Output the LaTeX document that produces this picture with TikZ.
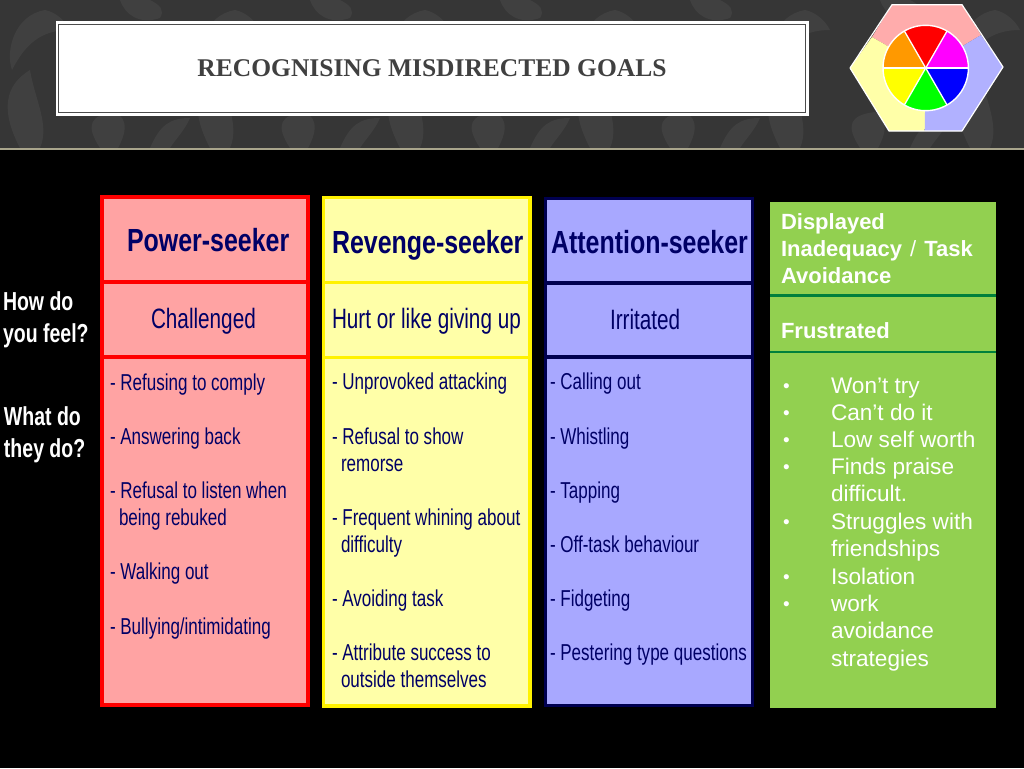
\documentclass[tikz,border=0pt]{standalone}
\usepackage{fontspec}
\setmainfont{Liberation Sans}
\newfontfamily\narrowbold[FakeStretch=0.78]{Liberation Sans Bold}
\newfontfamily\sidebold[FakeStretch=0.75]{Liberation Sans Bold}
\newfontfamily\narrowreg[FakeStretch=0.74]{Liberation Sans}
\newfontfamily\titlefont{Liberation Serif}
\definecolor{navy}{HTML}{000066}
\definecolor{navyb}{HTML}{000050}
\definecolor{bandbg}{HTML}{363636}
\definecolor{bandorn}{HTML}{404040}
\definecolor{bandedge}{HTML}{A9A58C}
\definecolor{pinkf}{HTML}{FFA3A3}
\definecolor{yellf}{HTML}{FFFFA8}
\definecolor{bluef}{HTML}{A8A8FF}
\definecolor{greenf}{HTML}{92D050}
\definecolor{greenl}{HTML}{00803C}
\definecolor{wred}{HTML}{FF0000}
\definecolor{wmag}{HTML}{FF00FF}
\definecolor{wora}{HTML}{FF9900}
\definecolor{wyel}{HTML}{FFFF00}
\definecolor{wgre}{HTML}{00FF00}
\definecolor{wblu}{HTML}{0000FF}
\tikzset{
  x=1pt,y=-1pt,
  lbl/.style={anchor=base west,inner sep=0pt,outer sep=0pt},
  head/.style={lbl,text=navy,font=\narrowbold\fontsize{32}{36}\selectfont},
  sub/.style={lbl,text=navy,font=\narrowreg\fontsize{28}{32}\selectfont},
  item/.style={lbl,text=navy,font=\narrowreg\fontsize{23}{26}\selectfont},
  side/.style={lbl,text=white,font=\sidebold\fontsize{26}{30}\selectfont},
  gbold/.style={lbl,text=white,font=\bfseries\fontsize{22}{26}\selectfont},
  gtext/.style={lbl,text=white,font=\fontsize{22.6}{26}\selectfont},
  gbul/.style={lbl,text=white,font=\fontsize{19}{26}\selectfont},
  orn/.style={fill=bandorn,draw=none},
}
\begin{document}
\begin{tikzpicture}
\useasboundingbox (0,0) rectangle (1024,768);
\fill[black] (0,0) rectangle (1024,768);
\fill[bandbg] (0,0) rectangle (1024,148);
\begin{scope}
\clip (0,0) rectangle (1024,148);
\foreach \o in {0,190,380,570,760,950}{
  \begin{scope}[shift={(\o,0)}]
  \fill[orn] (20,148) .. controls (0,110) and (5,85) .. (30,70) .. controls (35,100) and (50,125) .. (40,148) -- cycle;
  \fill[orn] (45,10) .. controls (15,15) and (5,50) .. (12,70) .. controls (25,45) and (40,30) .. (70,30) .. controls (65,20) and (55,12) .. (45,10) -- cycle;
  \fill[orn] (100,148) .. controls (85,125) and (90,115) .. (115,112) .. controls (130,120) and (125,135) .. (118,148) -- cycle;
  \fill[orn] (150,148) .. controls (160,125) and (170,118) .. (190,118) .. controls (185,130) and (175,140) .. (170,148) -- cycle;
  \fill[orn] (120,0) .. controls (125,15) and (140,25) .. (160,18) .. controls (165,10) and (160,5) .. (150,0) -- cycle;
  \end{scope}
}
\end{scope}
\fill[bandedge] (0,148) rectangle (1024,150);

% title
\fill[white] (55.5,21.5) rectangle (808.5,115.5);
\draw[black!70,line width=1.6pt] (58.5,24.5) rectangle (805.5,112.5);
\node[anchor=base,inner sep=0pt,text=black!75,font=\titlefont\bfseries\fontsize{25.5}{28}\selectfont] (title) at (432,76) {RECOGNISING MISDIRECTED GOALS};

% logo
\coordinate (c) at (925.7,68);
\fill[pinkf!90!white] (892,4.7) -- (962,4.7) -- (981,35) -- (925.7,68) -- (872,37) -- cycle;
\fill[yellf] (872,37) -- (850,68) -- (889,131) -- (924.7,131) -- (925.7,68) -- cycle;
\fill[bluef!90!white] (981,35) -- (1003,67) -- (962,131) -- (924.7,131) -- (925.7,68) -- cycle;
\draw[white,line width=1.2pt,line join=round] (892,4.7) -- (962,4.7) -- (1003,67) -- (962,131) -- (889,131) -- (850,68) -- cycle;
\def\R{42.7}
\begin{scope}
\clip (c) circle[radius=\R];
\foreach \a/\cl in {0/wmag,60/wred,120/wora,180/wyel,240/wgre,300/wblu}{
  \fill[\cl] (c) -- ++({60*cos(\a)},{-60*sin(\a)}) -- ++({60*cos(\a+60)-60*cos(\a)},{-60*sin(\a+60)+60*sin(\a)}) -- cycle;
}
\end{scope}
\foreach \a in {0,60,...,300}{ \draw[white,line width=1.3pt] (c) -- ++({\R*cos(\a)},{-\R*sin(\a)}); }
\draw[white,line width=1.4pt] (c) circle[radius=\R];

% side labels
\node[side] (s1) at (3,310) {How do};
\node[side] (s2) at (3,342) {you feel?};
\node[side] (s3) at (4,425) {What do};
\node[side] (s4) at (4,457) {they do?};

% red column
\draw[red,line width=3.3pt,fill=pinkf] (102,197) rectangle (308,705);
\draw[red,line width=3.6pt] (102,282) -- (308,282);
\draw[red,line width=3.6pt] (102,357) -- (308,357);
\node[head] (a0) at (127,251) {Power-seeker};
\node[sub] (a1) at (151,328) {Challenged};
\node[item] (a2) at (110,390) {- Refusing to comply};
\node[item] (a3) at (110,444) {- Answering back};
\node[item] (a4) at (110,498) {- Refusal to listen when};
\node[item] (a5) at (119,525) {being rebuked};
\node[item] (a6) at (110,579) {- Walking out};
\node[item] (a7) at (110,634) {- Bullying/intimidating};

% yellow column
\draw[yellow,line width=3.5pt,fill=yellf] (323.5,197.5) rectangle (530,706);
\draw[yellow,line width=3pt] (323,282) -- (530,282);
\draw[yellow,line width=3pt] (323,357) -- (530,357);
\node[head] (b0) at (332,253) {Revenge-seeker};
\node[sub] (b1) at (332,328) {Hurt or like giving up};
\node[item] (b2) at (332,389) {- Unprovoked attacking};
\node[item] (b3) at (332,444) {- Refusal to show};
\node[item] (b4) at (341,471) {remorse};
\node[item] (b5) at (332,525) {- Frequent whining about};
\node[item] (b6) at (341,552) {difficulty};
\node[item] (b7) at (332,606) {- Avoiding task};
\node[item] (b8) at (332,660) {- Attribute success to};
\node[item] (b9) at (341,687) {outside themselves};

% blue column
\draw[navyb,line width=3pt,fill=bluef] (545.5,198) rectangle (752.5,705.5);
\draw[navyb,line width=3.2pt] (545.5,283) -- (752.5,283);
\draw[navyb,line width=3.2pt] (545.5,357) -- (752.5,357);
\node[head] (d0) at (551,253) {Attention-seeker};
\node[sub] (d1) at (610,329) {Irritated};
\node[item] (d2) at (550,389) {- Calling out};
\node[item] (d3) at (550,444) {- Whistling};
\node[item] (d4) at (550,498) {- Tapping};
\node[item] (d5) at (550,552) {- Off-task behaviour};
\node[item] (d6) at (550,606) {- Fidgeting};
\node[item] (d7) at (550,660) {- Pestering type questions};

% green column
\fill[greenf] (770,202) rectangle (996,708);
\draw[greenl,line width=2.5pt] (770,295.5) -- (996,295.5);
\draw[greenl,line width=2.5pt] (770,352) -- (996,352);
\node[gbold] (g1) at (781,229) {Displayed};
\node[gbold] (g2) at (781,256) {Inadequacy\hspace{2pt} {\mdseries /}\hspace{2pt} Task};
\node[gbold] (g3) at (781,283) {Avoidance};
\node[gbold] (g4) at (781,338) {Frustrated};
\foreach \yy/\t/\nm in {393/Won’t try/h1,420/Can’t do it/h2,447/Low self worth/h3,474/Finds praise/h4,501/difficult./h5,529/Struggles with/h6,556/friendships/h7,584/Isolation/h8,611/work/h9,638/avoidance/h10,666/strategies/h11}{
  \node[gtext] (\nm) at (831,\yy) {\t};
}
\foreach \yy/\nm in {393/k1,420/k2,447/k3,474/k4,529/k5,584/k6,611/k7}{
  \node[gbul] (\nm) at (783,\yy-1) {•};
}
\end{tikzpicture}
\end{document}
